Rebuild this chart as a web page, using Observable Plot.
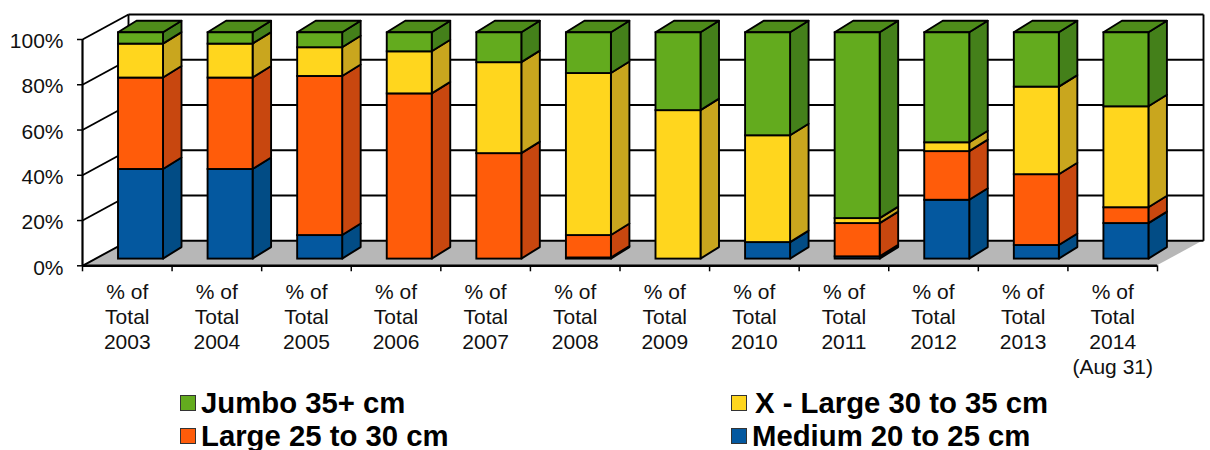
<!DOCTYPE html>
<html>
<head>
<meta charset="utf-8">
<script src="https://cdn.jsdelivr.net/npm/d3@7"></script>
<script src="https://cdn.jsdelivr.net/npm/@observablehq/plot@0.6"></script>
<style>
  html, body { margin: 0; padding: 0; background: #fff; width: 1210px; height: 450px; overflow: hidden; }
  #wrap { position: relative; width: 1210px; height: 450px; font-family: "Liberation Sans", Arial, sans-serif; }
  #wrap svg { display: block; background: #fff; }
  .key { position: absolute; display: flex; align-items: center; font-weight: 700; font-size: 29.3px; line-height: 33px; color: #000; white-space: nowrap; }
  .swatch { width: 14px; height: 14px; border: 1px solid #333; margin-right: 5px; flex: none; }
</style>
</head>
<body>
<div id="wrap"></div>
<script>
const years = ["2003","2004","2005","2006","2007","2008","2009","2010","2011","2012","2013","2014"];
const tickLabels = years.map(y => y === "2014" ? "% of\nTotal\n2014\n(Aug 31)" : `% of\nTotal\n${y}`);
const yTicks = [0, 20, 40, 60, 80, 100];

const medium = [39.6, 39.6, 10.4, 0, 0, 0.5, 0, 7.3, 1, 26, 6, 15.7];
const large  = [40.4, 40.4, 70.3, 73, 46.6, 9.9, 0, 0, 14.7, 21.5, 31.3, 7];
const xlarge = [15, 15, 12.7, 18.6, 40.2, 71.6, 65.6, 47.2, 2.2, 3.9, 38.7, 44.6];
const jumbo  = [5, 5, 6.6, 8.4, 13.2, 18, 34.4, 45.5, 82.1, 48.6, 24, 32.7];

const seriesNames = ["Medium 20 to 25 cm", "Large 25 to 30 cm", "X - Large 30 to 35 cm", "Jumbo 35+ cm"];
const seriesValues = [medium, large, xlarge, jumbo];
const frontColors = ["#04589f", "#ff5c0a", "#ffd61e", "#63ab1e"];
const sideColors  = ["#024c85", "#c8470f", "#c9a61e", "#44801a"];
const topColor = "#4e8c1a";
const floorColor = "#b7b7b7";

// Perspective of the box, in scale units
const pxX = 1075 / 12, pxY = 226.3 / 100;
const wallX = 46 / pxX, wallY = 25 / pxY;
const barLeft = 36 / pxX, barW = 45 / pxX;
const barLift = 6.7 / pxY;
const sideX = 18.5 / pxX, sideY = 11.5 / pxY;

const fronts = [], sides = [], tops = [];
years.forEach((yr, i) => {
  let base = 0;
  const xl = i + barLeft, xr = xl + barW;
  seriesValues.forEach((vals, s) => {
    const v = vals[i];
    if (v > 0) {
      const lo = base + barLift, hi = base + v + barLift;
      fronts.push({x1: xl, x2: xr, lo, hi, fill: frontColors[s]});
      const id = `${yr}-${s}`;
      sides.push({id, x: xr, lo, hi, fill: sideColors[s]});
      sides.push({id, x: xr + sideX, lo: lo + sideY, hi: hi + sideY, fill: sideColors[s]});
    }
    base += v;
  });
  const t = base + barLift;
  tops.push({id: yr, x1: xl, x2: xr, y: t});
  tops.push({id: yr, x1: xl + sideX, x2: xr + sideX, y: t + sideY});
});

const floor = [
  {x1: 0, x2: 12, y: 0},
  {x1: wallX, x2: 12 + wallX, y: wallY}
];

const lw = 1.9;
const chart = Plot.plot({
  width: 1210,
  height: 385,
  marginLeft: 82,
  marginRight: 53,
  marginTop: 39,
  marginBottom: 119.7,
  x: {domain: [0, 12]},
  y: {domain: [0, 100]},
  color: {type: "identity"},
  style: {fontFamily: "'Liberation Sans', Arial, sans-serif", background: "#fff", overflow: "visible"},
  marks: [
    // floor
    Plot.area(floor, {x1: "x1", x2: "x2", y1: "y", y2: "y", fill: floorColor}),
    // back wall grid, side wall diagonals, frame
    Plot.link(yTicks, {x1: wallX, x2: 12 + wallX, y1: d => d + wallY, y2: d => d + wallY, stroke: "#000", strokeWidth: lw}),
    Plot.link(yTicks, {x1: 0, x2: wallX, y1: d => d, y2: d => d + wallY, stroke: "#000", strokeWidth: lw}),
    Plot.link([wallX, 12 + wallX], {x1: d => d, x2: d => d, y1: wallY, y2: 100 + wallY, stroke: "#000", strokeWidth: lw}),
    Plot.ruleX([0], {y1: 0, y2: 100, stroke: "#000", strokeWidth: 2.2}),
    Plot.ruleY([0], {x1: 0, x2: 12, stroke: "#000", strokeWidth: 2.4}),
    // bars
    Plot.area(sides, {x1: "x", x2: "x", y1: "lo", y2: "hi", z: "id", fill: "fill", stroke: "#000", strokeWidth: lw}),
    Plot.area(tops, {x1: "x1", x2: "x2", y1: "y", y2: "y", z: "id", fill: topColor, stroke: "#000", strokeWidth: lw}),
    Plot.rect(fronts, {x1: "x1", x2: "x2", y1: "lo", y2: "hi", fill: "fill", stroke: "#000", strokeWidth: lw}),
    // axes
    Plot.axisY(yTicks, {tickSize: 5, tickFormat: () => "", label: null, strokeWidth: 1.5}),
    Plot.text(yTicks, {x: 0, y: d => d, text: d => d + "%", textAnchor: "end", dx: -19, dy: 2, fontSize: 21, fill: "#111"}),
    Plot.axisX(d3.range(13), {tickSize: 6, tickFormat: () => "", label: null, strokeWidth: 1.5}),
    Plot.axisX(d3.range(12).map(i => i + 0.5), {
      tickSize: 0, tickPadding: 16, tickFormat: d => tickLabels[d - 0.5], fontSize: 21, lineHeight: 1.18, label: null, color: "#111"
    })
  ]
});
const wrap = document.getElementById("wrap");
wrap.appendChild(chart);

const legendItems = [
  {name: seriesNames[3], color: frontColors[3], left: 180, top: 386, gap: 5},
  {name: seriesNames[2], color: frontColors[2], left: 731, top: 386, gap: 8},
  {name: seriesNames[1], color: frontColors[1], left: 180, top: 419, gap: 5},
  {name: seriesNames[0], color: frontColors[0], left: 731, top: 419, gap: 5}
];
for (const it of legendItems) {
  const k = document.createElement("div");
  k.className = "key";
  k.style.left = it.left + "px";
  k.style.top = it.top + "px";
  const s = document.createElement("span");
  s.className = "swatch";
  s.style.background = it.color;
  s.style.marginRight = it.gap + "px";
  const t = document.createElement("span");
  t.textContent = it.name;
  k.append(s, t);
  wrap.appendChild(k);
}
</script>
</body>
</html>
